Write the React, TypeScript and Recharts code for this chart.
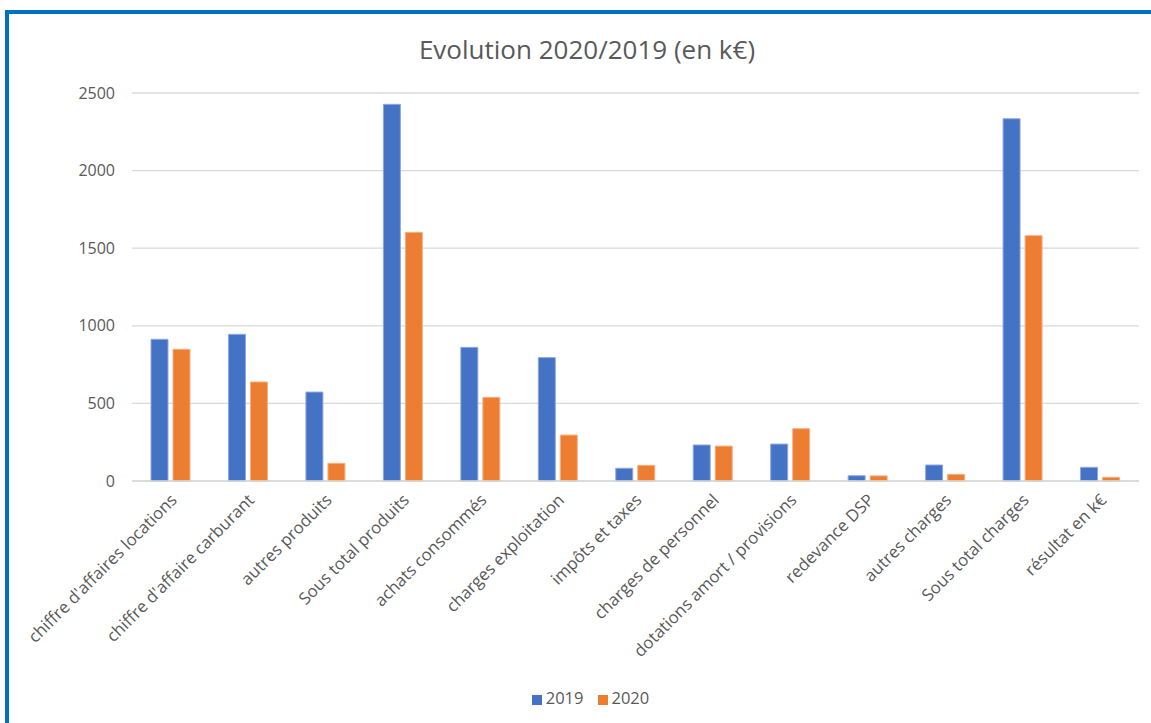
import React from "react";
import { BarChart, Bar, XAxis, YAxis, CartesianGrid, Legend } from "recharts";

const categories = [
  "chiffre d'affaires locations",
  "chiffre d'affaire carburant",
  "autres produits",
  "Sous total produits",
  "achats consommés",
  "charges exploitation",
  "impôts et taxes",
  "charges de personnel",
  "dotations amort / provisions",
  "redevance DSP",
  "autres charges",
  "Sous total charges",
  "résultat en k€",
];
const values2019 = [913, 945, 573, 2427, 861, 795, 82, 232, 238, 34, 103, 2334, 88];
const values2020 = [849, 638, 114, 1602, 539, 296, 101, 225, 337, 33, 43, 1581, 24];
const yTicks = [0, 500, 1000, 1500, 2000, 2500];

const data = categories.map((name, i) => ({
  name,
  y2019: values2019[i],
  y2020: values2020[i],
}));

const FONT = "'Open Sans', sans-serif";
const TEXT = "#595959";

const XTick = (props: any) => {
  const { x, y, payload } = props;
  const ax = x + 3;
  const ay = y + 8;
  return (
    <text
      x={ax}
      y={ay}
      dy="0.35em"
      textAnchor="end"
      transform={`rotate(-45, ${ax}, ${ay})`}
      fill={TEXT}
      fontSize={16.8}
      fontFamily={FONT}
    >
      {payload.value}
    </text>
  );
};

export default function App() {
  return (
    <div style={{ position: "absolute", left: 0, top: 0, width: 1151, height: 723, background: "#fff", overflow: "hidden" }}>
      <div
        style={{
          position: "absolute",
          left: 5,
          top: 10,
          width: 1200,
          height: 800,
          borderLeft: "4px solid #0070C0",
          borderTop: "4px solid #0070C0",
          boxSizing: "border-box",
        }}
      />
      <div
        style={{
          position: "absolute",
          left: 0,
          top: 31,
          width: 1174,
          textAlign: "center",
          fontFamily: FONT,
          fontSize: 26,
          color: TEXT,
        }}
      >
        Evolution 2020/2019 (en k€)
      </div>
      <div style={{ position: "absolute", left: 0, top: 0 }}>
        <BarChart
          width={1151}
          height={723}
          data={data}
          margin={{ top: 93, right: 12, left: 0, bottom: 14 }}
          barSize={17}
          barGap={5}
        >
          <CartesianGrid vertical={false} stroke="#D9D9D9" strokeWidth={1.3} />
          <XAxis
            dataKey="name"
            interval={0}
            tickLine={false}
            axisLine={{ stroke: "#D9D9D9", strokeWidth: 1.5 }}
            tick={<XTick />}
            height={205}
          />
          <YAxis
            width={132}
            domain={[0, 2500]}
            ticks={yTicks}
            axisLine={false}
            tickLine={false}
            tickMargin={11}
            tick={{ fill: TEXT, fontSize: 16, fontFamily: FONT }}
          />
          <Legend
            verticalAlign="bottom"
            align="center"
            iconType="square"
            iconSize={10}
            wrapperStyle={{ paddingLeft: 28 }}
            formatter={(v: string) => (
              <span style={{ color: TEXT, fontSize: 16.5, fontFamily: FONT, marginRight: 4 }}>{v}</span>
            )}
          />
          <Bar dataKey="y2019" name="2019" fill="#4472C4" stroke="#8EA9DB" strokeWidth={1} isAnimationActive={false} />
          <Bar dataKey="y2020" name="2020" fill="#ED7D31" stroke="#F4B183" strokeWidth={1} isAnimationActive={false} />
        </BarChart>
      </div>
    </div>
  );
}
